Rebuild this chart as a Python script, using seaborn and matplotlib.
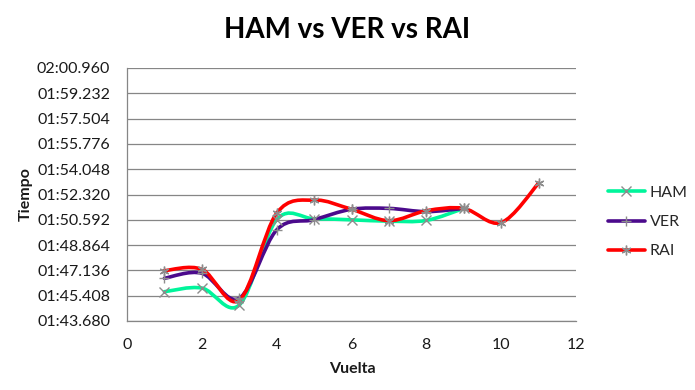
import numpy as np
import pandas as pd
import matplotlib
matplotlib.use("Agg")
import matplotlib.pyplot as plt
from matplotlib.path import Path
from matplotlib.patches import PathPatch
from matplotlib.lines import Line2D
from matplotlib.ticker import FuncFormatter, FixedLocator
import seaborn as sns

# ---------------- data (lap times in seconds) ----------------
laps_ham = [1, 2, 3, 4, 5, 6, 7, 8, 9]
ham = [105.68, 105.93, 104.77, 110.60, 110.66, 110.59, 110.50, 110.55, 111.37]

laps_ver = [1, 2, 3, 4, 5, 6, 7, 8, 9]
ver = [106.60, 106.94, 105.23, 109.90, 110.60, 111.31, 111.37, 111.15, 111.37]

laps_rai = [1, 2, 3, 4, 5, 6, 7, 8, 9, 10, 11]
rai = [107.12, 107.21, 105.10, 111.04, 111.94, 111.31, 110.53, 111.21, 111.37, 110.40, 113.09]

series_names = ["HAM", "VER", "RAI"]
y_ticks = [103.680, 105.408, 107.136, 108.864, 110.592, 112.320,
           114.048, 115.776, 117.504, 119.232, 120.960]
x_ticks = [0, 2, 4, 6, 8, 10, 12]

title = "HAM vs VER vs RAI"
xlabel = "Vuelta"
ylabel = "Tiempo"

# ---------------- style ----------------
sns.set_theme(style="white")
plt.rcParams["font.family"] = ["Lato", "DejaVu Sans"]

colors = {"HAM": "#00F59B", "VER": "#4B0A8C", "RAI": "#FF0000"}
markers = {"HAM": "x", "VER": "+", "RAI": (6, 2, 0)}
mk_color = "#8C8C8C"
grid_color = "#868686"

fig = plt.figure(figsize=(6.95, 3.90), dpi=100)
ax = fig.add_axes([127 / 695, 1 - 321 / 390, 449 / 695, 253 / 390])


def smooth_path(xs, ys):
    """Excel-like smoothed line: cubic Bezier segments (Catmull-Rom control points)."""
    P = np.column_stack([xs, ys]).astype(float)
    n = len(P)
    verts = [P[0]]
    codes = [Path.MOVETO]
    for i in range(n - 1):
        p_prev = P[i - 1] if i > 0 else P[i]
        p_next2 = P[i + 2] if i + 2 < n else P[i + 1]
        c1 = P[i] + (P[i + 1] - p_prev) / 6.0
        c2 = P[i + 1] - (p_next2 - P[i]) / 6.0
        verts += [c1, c2, P[i + 1]]
        codes += [Path.CURVE4] * 3
    return Path(verts, codes)


frames = []
for name, xs, ys in [("HAM", laps_ham, ham), ("VER", laps_ver, ver), ("RAI", laps_rai, rai)]:
    frames.append(pd.DataFrame({"Vuelta": xs, "Tiempo": ys, "Piloto": name}))
df = pd.concat(frames, ignore_index=True)

for name in series_names:
    sub = df[df["Piloto"] == name]
    patch = PathPatch(smooth_path(sub["Vuelta"].values, sub["Tiempo"].values),
                      facecolor="none", edgecolor=colors[name], lw=2.6,
                      capstyle="round", joinstyle="round", zorder=3)
    ax.add_patch(patch)
    sns.lineplot(data=sub, x="Vuelta", y="Tiempo", ax=ax, linestyle="none",
                 marker=markers[name], markersize=7, markeredgewidth=1.0,
                 color=mk_color, markeredgecolor=mk_color, zorder=4,
                 legend=False, errorbar=None, estimator=None)

ax.set_xlim(0, 12)
ax.set_ylim(y_ticks[0], y_ticks[-1])
ax.xaxis.set_major_locator(FixedLocator(x_ticks))
ax.yaxis.set_major_locator(FixedLocator(y_ticks))


def fmt_time(v, pos=None):
    total_ms = int(round(v * 1000))
    m = total_ms // 60000
    s = (total_ms % 60000) / 1000.0
    return f"{m:02d}:{s:06.3f}"


ax.yaxis.set_major_formatter(FuncFormatter(fmt_time))
ax.xaxis.set_major_formatter(FuncFormatter(lambda v, p: f"{int(round(v))}"))

ax.grid(axis="y", color=grid_color, lw=0.9)
ax.grid(axis="x", visible=False)
for side in ["top", "right"]:
    ax.spines[side].set_visible(False)
for side in ["left", "bottom"]:
    ax.spines[side].set_color(grid_color)
    ax.spines[side].set_linewidth(0.9)

ax.tick_params(axis="y", length=0, pad=12, labelsize=11.5, labelcolor="#1a1a1a")
ax.tick_params(axis="x", length=0, pad=12, labelsize=11.5, labelcolor="#1a1a1a")

ax.set_xlabel(xlabel, fontsize=11.5, fontweight="bold", color="#1a1a1a")
ax.set_ylabel(ylabel, fontsize=11.5, fontweight="bold", color="#1a1a1a")
ax.xaxis.label.set_va("center")
ax.yaxis.label.set_va("center")
ax.xaxis.set_label_coords((352 - 127) / 449, (321 - 369) / 253)
ax.yaxis.set_label_coords((26 - 127) / 449, 0.5)

fig.suptitle(title, x=0.5, y=1 - 38 / 390, va="baseline", fontsize=20,
             fontweight="bold", color="#000000")

handles = [Line2D([], [], color=colors[n], lw=2.6, marker=markers[n], markersize=7,
                  markeredgecolor=mk_color, markeredgewidth=1.0) for n in series_names]
fig.legend(handles, series_names, loc="center left",
           bbox_to_anchor=(608 / 695, 1 - 222 / 390), frameon=False,
           fontsize=11.5, handlelength=2.3, handletextpad=0.3, labelspacing=0.95,
           borderpad=0, borderaxespad=0)

fig.savefig("out.png", dpi=100)
